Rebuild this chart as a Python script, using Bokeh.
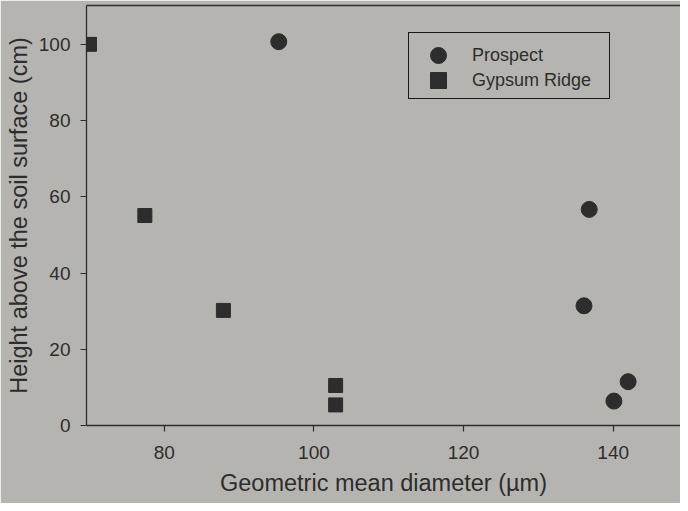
from bokeh.plotting import figure
from bokeh.models import LinearAxis, FixedTicker, Range1d, Legend, LegendItem
from bokeh.embed import file_html
from bokeh.resources import INLINE

# Data
prospect_x = [95.3, 136.8, 136.1, 142.0, 140.1]
prospect_y = [100.7, 56.7, 31.4, 11.5, 6.4]
gypsum_x = [70.0, 77.4, 87.9, 102.9, 102.9]
gypsum_y = [100.0, 55.1, 30.2, 10.5, 5.4]

x_ticks = [80, 100, 120, 140]
y_ticks = [0, 20, 40, 60, 80, 100]

x_title = "Geometric mean diameter (\u00b5m)"
y_title = "Height above the soil surface (cm)"
series_names = ["Prospect", "Gypsum Ridge"]

BG = "#b6b4b0"
INK = "#2d2d2d"
FONT = "Liberation Sans"

p = figure(width=680, height=503, output_backend="svg", toolbar_location=None,
           x_range=Range1d(69.6, 149.0), y_range=Range1d(0, 110.2),
           x_axis_location=None, y_axis_location=None,
           min_border_left=86, min_border_right=0, min_border_top=5, min_border_bottom=78)
p.background_fill_color = BG
p.border_fill_color = BG
p.outline_line_color = None
p.grid.visible = False

def style_axis(ax, ticks):
    ax.ticker = FixedTicker(ticks=ticks)
    ax.axis_line_color = INK
    ax.axis_line_width = 1.3
    ax.major_tick_line_color = INK
    ax.major_tick_line_width = 1.2
    ax.major_tick_in = 0
    ax.major_tick_out = 6
    ax.minor_tick_line_color = None
    ax.major_label_text_font = FONT
    ax.major_label_text_font_size = "19px"
    ax.major_label_text_color = INK
    ax.axis_label_text_font = FONT
    ax.axis_label_text_font_size = "23.5px"
    ax.axis_label_text_font_style = "normal"
    ax.axis_label_text_color = INK

xa = LinearAxis(axis_label=x_title)
style_axis(xa, x_ticks)
xa.major_label_standoff = 14
xa.axis_label_standoff = 8
p.add_layout(xa, "below")

ya = LinearAxis(axis_label=y_title)
style_axis(ya, y_ticks)
ya.major_label_standoff = 10
ya.axis_label_standoff = 4
p.add_layout(ya, "left")

top = LinearAxis(ticker=FixedTicker(ticks=[]))
top.axis_line_color = INK
top.axis_line_width = 1.3
top.major_tick_line_color = None
top.minor_tick_line_color = None
top.major_label_text_font_size = "0px"
p.add_layout(top, "above")

r1 = p.scatter(prospect_x, prospect_y, marker="circle", size=16,
               fill_color=INK, line_color=INK)
r2 = p.scatter(gypsum_x, gypsum_y, marker="square", size=14,
               fill_color=INK, line_color=INK)

common = dict(orientation="vertical", padding=0, margin=0, spacing=0,
              label_text_font=FONT, label_text_font_size="18px", label_text_color=INK,
              background_fill_color=None)

# legend frame
box = Legend(items=[LegendItem(label="", renderers=[r2])], location=(322, 326),
             glyph_width=0, glyph_height=65, label_standoff=0, label_width=200,
             label_height=65, border_line_color="#181818", border_line_width=1.8,
             border_line_alpha=1.0, **common)
# legend entries
leg1 = Legend(items=[LegendItem(label=series_names[0], renderers=[r1])], location=(322, 350),
              glyph_width=60, glyph_height=40, label_standoff=4, label_width=136,
              border_line_color=None, **common)
leg2 = Legend(items=[LegendItem(label=series_names[1], renderers=[r2])], location=(322, 325),
              glyph_width=60, glyph_height=40, label_standoff=4, label_width=136,
              border_line_color=None, **common)
p.add_layout(box, "center")
p.add_layout(leg1, "center")
p.add_layout(leg2, "center")

html = file_html(p, INLINE)
html = html.replace("<body>", '<body style="background:%s">' % BG, 1)
open("out.html", "w").write(html)
